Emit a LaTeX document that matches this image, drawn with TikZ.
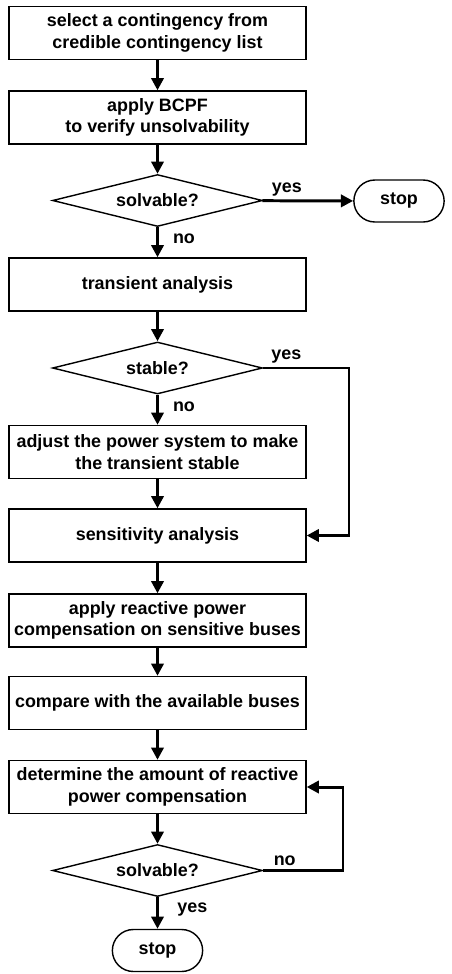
\documentclass[tikz,border=0pt]{standalone}
\usepackage{fontspec}
\setmainfont{Liberation Sans}
\usetikzlibrary{arrows.meta,calc,positioning,shapes.geometric,shapes.misc}

\begin{document}
\begin{tikzpicture}[x=0.02cm,y=-0.02cm,
  font=\fontsize{10.2}{12.3}\selectfont\bfseries,
  box/.style={draw,line width=0.8pt,minimum width=5.94cm,minimum height=1.06cm,align=center,inner sep=1pt},
  dec/.style={draw,diamond,aspect=4,line width=0.8pt,minimum width=4.2cm,minimum height=1.04cm,inner sep=0pt},
  term/.style={draw,rounded rectangle,line width=0.8pt,minimum width=2.04cm,minimum height=0.84cm},
  flow/.style={-{Triangle[width=7pt,length=7pt]},line width=1.7pt}]
\useasboundingbox (0,0) rectangle (452,974);
\node[box] (sel) at (157.5,33) {select a contingency from\\credible contingency list};
\node[box] (bcpf) at (157.5,117.5) {apply BCPF\\to verify unsolvability};
\node[dec] (solv1) at (157.5,200.5) {solvable?};
\node[term] (stop1) at (399,201) {stop};
\node[box] (trans) at (157.5,284.5) {transient analysis};
\node[dec] (stab) at (157.5,368) {stable?};
\node[box] (adj) at (157.5,452) {adjust the power system to make\\the transient stable};
\node[box] (sens) at (157.5,535.5) {sensitivity analysis};
\node[box] (comp) at (157.5,620.5) {apply reactive power\\compensation on sensitive buses};
\node[box] (avail) at (157.5,703) {compare with the available buses};
\node[box] (amt) at (157.5,787) {determine the amount of reactive\\power compensation};
\node[dec] (solv2) at (157.5,870.5) {solvable?};
\node[term] (stop2) at (157.5,950.5) {stop};
\coordinate (c1) at (349,368);
\coordinate (c2) at (343,870.5);
\draw[flow] (sel)--(bcpf);
\draw[flow] (bcpf)--(solv1);
\draw[flow] (solv1)--node[above,pos=0.27,inner sep=2pt]{yes}(stop1);
\draw[flow] (solv1)--node[right,pos=0.4,inner sep=8pt]{no}(trans);
\draw[flow] (trans)--(stab);
\draw[flow] (stab)--node[right,pos=0.4,inner sep=8pt]{no}(adj);
\draw[flow] (stab.east)--node[above,pos=0.27,inner sep=2pt]{yes}(c1) |- (sens.east);
\draw[flow] (adj)--(sens);
\draw[flow] (sens)--(comp);
\draw[flow] (comp)--(avail);
\draw[flow] (avail)--(amt);
\draw[flow] (amt)--(solv2);
\draw[flow] (solv2.east)--node[above,pos=0.27,inner sep=2pt]{no}(c2) |- (amt.east);
\draw[flow] (solv2)--node[right,pos=0.4,inner sep=10.5pt]{yes}(stop2);
\end{tikzpicture}
\end{document}
